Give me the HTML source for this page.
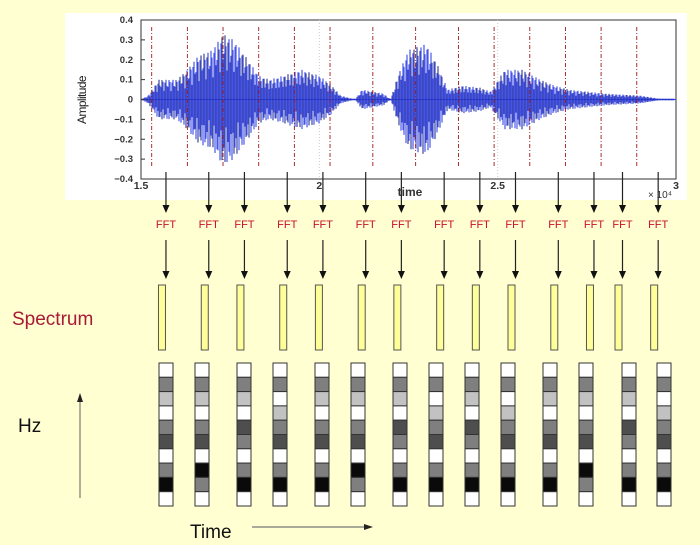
<!DOCTYPE html>
<html><head><meta charset="utf-8"><style>
html,body{margin:0;padding:0;background:#ffffd2;}
svg{display:block;font-family:"Liberation Sans",sans-serif;}
</style></head><body>
<svg id="fig" width="700" height="545" viewBox="0 0 700 545">
<rect x="0" y="0" width="700" height="545" fill="#ffffd2"/>
<rect x="65" y="13" width="622" height="187" fill="#ffffff"/>
<g id="wave"></g>
<g id="flow"></g>
<g id="spec"></g>
<text x="12" y="325" font-size="19" fill="#a81a36">Spectrum</text>
<text x="18" y="432" font-size="19" fill="#111">Hz</text>
<line x1="80" y1="498" x2="80" y2="400" stroke="#777" stroke-width="1.2"/>
<path d="M77,402 L80,393 L83,402 Z" fill="#222"/>
<text x="190" y="538" font-size="19" fill="#111">Time</text>
<line x1="252" y1="527" x2="366" y2="527" stroke="#777" stroke-width="1.2"/>
<path d="M364,524 L373,527 L364,530 Z" fill="#222"/>
</svg>
<script>
// waveform envelope (time in 1e4 units, amplitude)
const envT = [1.50,1.52,1.55,1.60,1.63,1.66,1.70,1.73,1.76,1.80,1.83,1.86,1.90,1.95,2.00,2.03,2.06,2.10,2.12,2.18,2.20,2.22,2.25,2.30,2.33,2.36,2.40,2.45,2.48,2.52,2.57,2.62,2.66,2.70,2.75,2.80,2.90,2.95,3.00];
const envA = [0.00,0.02,0.10,0.10,0.15,0.22,0.25,0.33,0.30,0.20,0.12,0.10,0.12,0.15,0.12,0.08,0.02,0.00,0.05,0.03,0.00,0.12,0.25,0.28,0.18,0.05,0.07,0.06,0.04,0.15,0.15,0.10,0.07,0.05,0.04,0.03,0.02,0.005,0.00];
const yTicks = [0.4,0.3,0.2,0.1,0,-0.1,-0.2,-0.3,-0.4];
const xTicks = [1.5,2,2.5,3];
const frameT = [1.53,1.63,1.73,1.83,1.93,2.03,2.15,2.27,2.39,2.49,2.59,2.69,2.79,2.89];
const arrowT = [1.57,1.69,1.79,1.91,2.01,2.13,2.23,2.35,2.45,2.55,2.67,2.77,2.85,2.95];
// spectrogram levels: 0 white,1 light,2 gray,3 dark,4 black (top->bottom)
const specCols = [
[0,2,1,0,2,3,0,2,4,0],[0,2,1,0,2,3,0,4,2,0],[0,2,1,0,3,2,0,2,4,0],[0,2,0,1,2,3,0,2,4,0],
[0,2,1,0,2,3,0,2,4,0],[0,2,1,0,2,3,0,4,2,0],[0,2,1,0,3,2,0,2,4,0],[0,2,0,1,2,3,0,2,4,0],
[0,2,1,0,3,2,0,2,4,0],[0,2,0,1,2,3,0,2,4,0],[0,2,1,0,2,3,0,2,4,0],[0,2,1,0,2,3,0,4,2,0],
[0,2,1,0,3,2,0,2,4,0],[0,2,0,1,2,3,0,2,4,0]];
const colX = [159,195,237,273,315,351,393,429,465,501,543,579,622,657];
const levelColor = ['#ffffff','#c2c2c2','#7f7f7f','#4e4e4e','#0a0a0a'];

const NS='http://www.w3.org/2000/svg';
function mk(tag,attrs,parent){const e=document.createElementNS(NS,tag);for(const k in attrs)e.setAttribute(k,attrs[k]);parent.appendChild(e);return e;}
const X0=141,X1=676,Y0=20,Y1=179;
const xs=t=>X0+(t-1.5)/1.5*(X1-X0);
const ys=a=>Y0+(0.4-a)/0.8*(Y1-Y0);
function env(t){for(let i=0;i<envT.length-1;i++){if(t>=envT[i]&&t<=envT[i+1]){const f=(t-envT[i])/(envT[i+1]-envT[i]);return envA[i]+f*(envA[i+1]-envA[i]);}}return 0;}

const wave=document.getElementById('wave');
let box=mk('rect',{x:X0,y:Y0,width:X1-X0,height:Y1-Y0,fill:'none',stroke:'#333','stroke-width':1},wave);


[2,2.5].forEach(t=>{const g=mk('line',{x1:xs(t),x2:xs(t),y1:Y0,y2:Y1,stroke:'#ccc','stroke-dasharray':'1,2'},wave);

});
let sig=mk('g',{},wave);


let zl=mk('line',{x1:X0,x2:X1,y1:ys(0),y2:ys(0),stroke:'#3344dd','stroke-width':1},sig);


for(let px=X0+1;px<X1-1;px+=1){
  const t=1.5+(px-X0)/(X1-X0)*1.5;const a=env(t);
  const k=Math.abs(Math.sin(px*0.9))*0.6+0.4;
  const up=a*k, dn=a*(0.4+0.6*Math.abs(Math.cos(px*1.3)));
  const l=mk('line',{x1:px,x2:px,y1:ys(Math.max(up,0.004)),y2:ys(-Math.max(dn,0.004)),stroke:(Math.floor(px)%3===0)?'#1a2490':'#2c3ce6','stroke-width':1.2,'stroke-opacity':0.85},sig);
  
  
}
frameT.forEach(t=>{const l=mk('line',{x1:xs(t),x2:xs(t),y1:27,y2:168,stroke:'#a01818','stroke-width':0.9,'stroke-dasharray':'4,2,1,2'},wave);

});
yTicks.forEach(v=>{const tx=mk('text',{x:X0-8,y:ys(v)+3,'font-size':9.5,'font-weight':'bold','text-anchor':'end',fill:'#333'},wave);tx.textContent=(v<0?'\u2212':'')+Math.abs(v);


const tk=mk('line',{x1:X0,x2:X0+4,y1:ys(v),y2:ys(v),stroke:'#333'},wave);

});
xTicks.forEach(v=>{const tx=mk('text',{x:xs(v),y:Y1+10,'font-size':10.5,'font-weight':'bold','text-anchor':'middle',fill:'#333'},wave);tx.textContent=v;

});
let yl=mk('text',{x:0,y:0,'font-size':12,transform:'translate(86,100) rotate(-90)','text-anchor':'middle',fill:'#222','letter-spacing':'-0.6'},wave);yl.textContent='Amplitude';


let xl=mk('text',{x:410,y:196,'font-size':12,'font-weight':'bold','text-anchor':'middle',fill:'#333'},wave);xl.textContent='time';


let ex=mk('text',{x:648,y:198,'font-size':10,fill:'#333'},wave);ex.textContent='\u00d7 10\u2074';



const flow=document.getElementById('flow');
function arrow(x,y1,y2,name){const l=mk('line',{x1:x,x2:x,y1:y1,y2:y2-6,stroke:'#222','stroke-width':1.2},flow);


const h=mk('path',{d:`M${x-3.5},${y2-8} L${x+3.5},${y2-8} L${x},${y2} Z`,fill:'#111'},flow);

}
arrowT.forEach((t,i)=>{const x=xs(t);
arrow(x,172,213,'signal-to-fft-arrow');
const f=mk('text',{x:x,y:228,'font-size':11,'text-anchor':'middle',fill:'#c8102e'},flow);f.textContent='FFT';


arrow(x,240,279,'fft-to-spectrum-arrow');
const b=mk('rect',{x:x-7.5,y:285,width:7,height:65,fill:'#ffff99',stroke:'#555','stroke-width':1},flow);


});

const spec=document.getElementById('spec');
const cellH=14.3, cellTop=363, cellW=14;
specCols.forEach((col,ci)=>{
  const g=mk('g',{},spec);
  
  
  col.forEach((lv,ri)=>{
    const r=mk('rect',{x:colX[ci],y:cellTop+ri*cellH,width:cellW,height:cellH,fill:levelColor[lv],stroke:'#333','stroke-width':1},g);
    
    
  });
});
</script>
</body></html>
